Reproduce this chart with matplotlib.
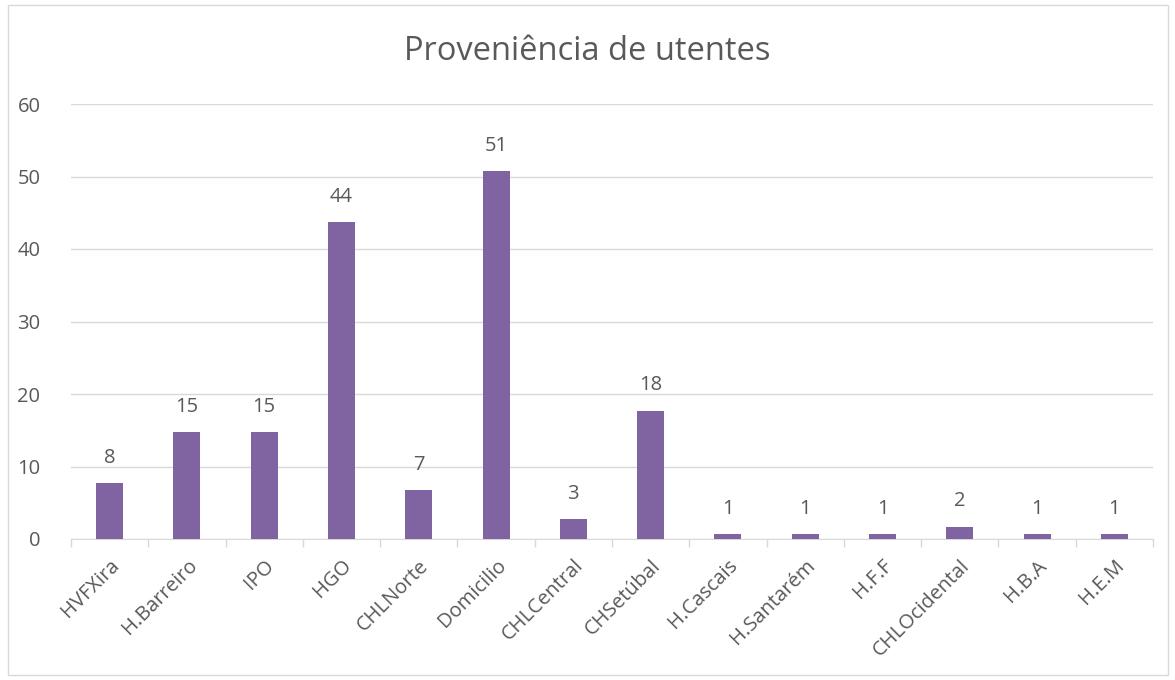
import matplotlib.pyplot as plt
import numpy as np
from matplotlib.patches import Rectangle

categorias = ['HVFXira', 'H.Barreiro', 'IPO', 'HGO', 'CHLNorte', 'Domicilio', 'CHLCentral',
              'CHSetúbal', 'H.Cascais', 'H.Santarém', 'H.F.F', 'CHLOcidental', 'H.B.A', 'H.E.M']
valores = [7.7, 14.7, 14.7, 43.7, 6.7, 50.7, 2.7, 17.7, 0.7, 0.7, 0.7, 1.7, 0.7, 0.7]
y_ticks = [0, 10, 20, 30, 40, 50, 60]

plt.rcParams['font.family'] = ['Open Sans', 'DejaVu Sans']
cinza = '#595959'

fig = plt.figure(figsize=(11.75, 6.8), dpi=100)
ax = fig.add_axes([71 / 1175, 1 - 539 / 680, (1153 - 71) / 1175, (539 - 104) / 680])

x = np.arange(len(categorias))
barras = ax.bar(x, valores, width=0.35, color='#8064A2', zorder=3)
ax.bar_label(barras, labels=['%.0f' % v for v in valores], padding=11, fontsize=14.5, color=cinza)

ax.set_xlim(-0.5, len(categorias) - 0.5)
ax.set_ylim(0, 60)
ax.set_yticks(y_ticks)
ax.yaxis.grid(True, color='#D9D9D9', linewidth=1, zorder=0)
ax.tick_params(axis='y', length=0, labelsize=14.5, labelcolor=cinza, pad=22)

ax.set_xticks(x)
ax.set_xticklabels(categorias, rotation=45, ha='right', rotation_mode='anchor',
                   fontsize=14.5, color=cinza)
ax.set_xticks(np.arange(len(categorias) + 1) - 0.5, minor=True)
ax.tick_params(axis='x', which='major', length=0, pad=12)
ax.tick_params(axis='x', which='minor', length=6, color='#D9D9D9', width=1)

for s in ['top', 'right', 'left']:
    ax.spines[s].set_visible(False)
ax.spines['bottom'].set_color('#D9D9D9')

fig.text(0.5, 1 - 52 / 680, 'Proveniência de utentes', ha='center', va='center',
         fontsize=23.5, color=cinza)
fig.patches.append(Rectangle((8 / 1175, 5 / 680), 1160 / 1175, 670 / 680, transform=fig.transFigure,
                             fill=False, edgecolor='#D9D9D9', linewidth=1))

fig.savefig('out.png', dpi=100)
